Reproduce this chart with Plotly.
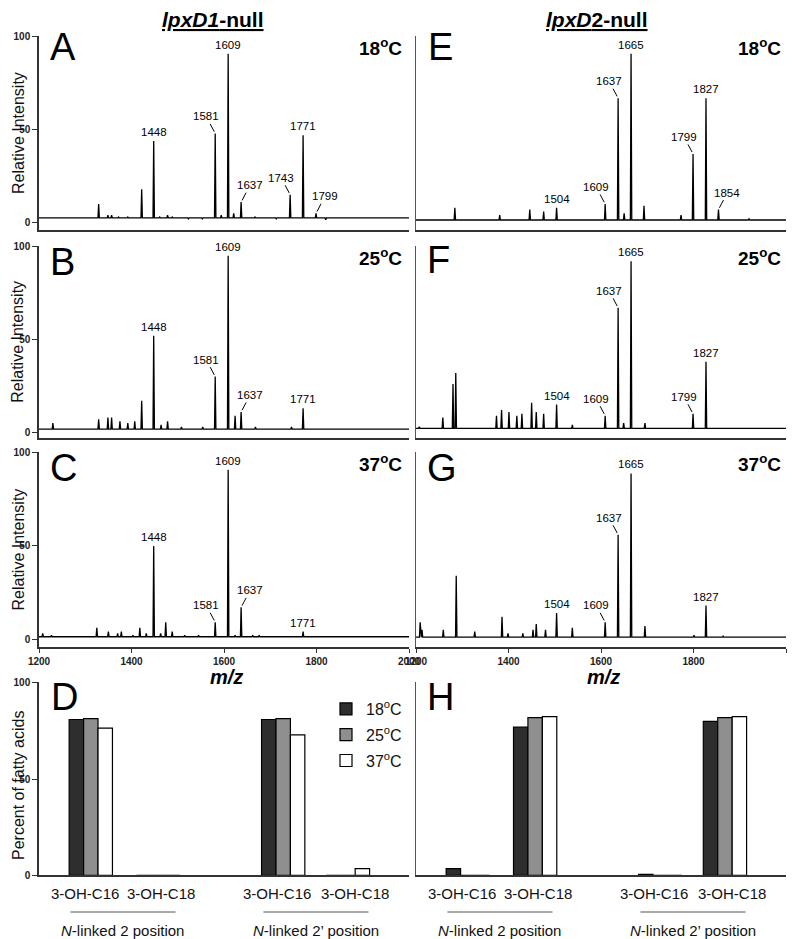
import plotly.graph_objects as go

''' MALDI spectra of lpxD1/lpxD2-null lipid A plus fatty acid composition bars '''

# ---------------- data ----------------
# panel A: lpxD1-null 18C
a_mz = [1329, 1349, 1357, 1372, 1392, 1422, 1448, 1461, 1478, 1488, 1523, 1553, 1581, 1594,
        1609, 1621, 1637, 1667, 1713, 1743, 1771, 1799, 1820]
a_int = [10, 4, 4, 3, 3, 18, 44, 3, 4, 3, 2, 2, 48, 4, 91, 5, 11, 3, 2, 15, 47, 5, 1.5]
a_base = 2.5

# panel B: lpxD1-null 25C
b_mz = [1230, 1329, 1349, 1357, 1375, 1392, 1407, 1422, 1448, 1464, 1478, 1508, 1554, 1581,
        1609, 1624, 1637, 1668, 1746, 1771, 1800]
b_int = [5, 7, 8, 8, 6, 5, 6, 17, 52, 4, 6, 3, 3, 30, 95, 9, 11, 3, 3, 13, 2]
b_base = 1.8

# panel C: lpxD1-null 37C
c_mz = [1208, 1227, 1325, 1350, 1370, 1378, 1403, 1418, 1432, 1448, 1463, 1474, 1488, 1515,
        1545, 1581, 1609, 1624, 1637, 1662, 1676, 1771, 1799]
c_int = [3, 2, 6, 4, 3, 4, 2, 6, 3, 50, 3, 9, 4, 2, 2, 9, 91, 2, 17, 2, 2, 4, 1.5]
c_base = 1.2

# panel E: lpxD2-null 18C
e_mz = [1284, 1381, 1446, 1476, 1504, 1609, 1637, 1650, 1665, 1693, 1773, 1799, 1827, 1854, 1920]
e_int = [8, 4, 7, 6, 8, 10, 67, 5, 91, 9, 4, 37, 67, 7, 2]
e_base = 1.4

# panel F: lpxD2-null 25C
f_mz = [1207, 1258, 1280, 1286, 1374, 1385, 1401, 1418, 1429, 1450, 1460, 1476, 1504, 1538,
        1609, 1637, 1649, 1665, 1695, 1799, 1827]
f_int = [3, 8, 26, 32, 9, 12, 11, 9, 10, 16, 11, 10, 15, 4, 9, 67, 5, 92, 5, 10, 38]
f_base = 2.2

# panel G: lpxD2-null 37C
g_mz = [1209, 1213, 1259, 1287, 1327, 1386, 1399, 1431, 1453, 1460, 1480, 1504, 1538, 1609,
        1637, 1665, 1695, 1801, 1827, 1864]
g_int = [9, 5, 5, 34, 4, 12, 3, 3, 5, 8, 5, 14, 6, 9, 56, 89, 7, 2, 18, 1.5]
g_base = 1.0

# bar panels D (lpxD1-null) and H (lpxD2-null)
fa_labels = ['3-OH-C16', '3-OH-C18', '3-OH-C16', '3-OH-C18']
group_labels = ['<i>N</i>-linked 2 position', '<i>N</i>-linked 2\u2019 position']
temps = ['18<sup>o</sup>C', '25<sup>o</sup>C', '37<sup>o</sup>C']
d_vals = [[81, 0, 81, 0], [81.5, 0, 81.5, 0], [76.5, 0, 73, 3.5]]
h_vals = [[3.5, 77, 0.5, 80], [0, 82, 0, 82], [0, 82.5, 0, 82.5]]

# labelled peaks: (m/z, where the label sits)
peak_labels = {
    1: [(1448, 'top'), (1581, 'ul'), (1609, 'top'), (1637, 'ur'), (1743, 'ul'), (1771, 'top'), (1799, 'ur')],
    2: [(1448, 'top'), (1581, 'ul'), (1609, 'top'), (1637, 'ur'), (1771, 'top')],
    3: [(1448, 'top'), (1581, 'ul'), (1609, 'top'), (1637, 'ur'), (1771, 'top')],
    5: [(1504, 'top'), (1609, 'ul'), (1637, 'ul'), (1665, 'top'), (1799, 'ul'), (1827, 'top'), (1854, 'ur')],
    6: [(1504, 'top'), (1609, 'ul'), (1637, 'ul'), (1665, 'top'), (1799, 'ul'), (1827, 'top')],
    7: [(1504, 'top'), (1609, 'ul'), (1637, 'ul'), (1665, 'top'), (1827, 'top')],
}

# ---------------- layout helpers ----------------
# the page body has an 8px margin, so the figure is shrunk by that and positions shifted
OFF = 8
W, H = 796 - OFF, 939 - OFF
FONT = 'Arial, Liberation Sans, sans-serif'


def px_x(p):
    return (p - OFF) / W


def px_y(p):
    return 1 - (p - OFF) / H


# rows: (top px, bottom px, y range); cols: (left px, right px)
rows = [(36, 230, [-4, 100.5]), (245.5, 438, [-3, 100.5]), (452, 647, [-4.3, 100.5]), (682, 875.3, [0, 100.5])]
cols = [(39, 409), (416, 786)]

# bar group centres and category label centres on the 0-10 bar axis
cat_pos = [1.4, 3.22, 6.6, 8.35]
label_pos = [1.23, 3.31, 6.42, 8.55]
bar_w = 0.39
bar_colors = ['#2e2e2e', '#8f8f8f', '#ffffff']

spectra = {1: (a_mz, a_int, a_base), 2: (b_mz, b_int, b_base), 3: (c_mz, c_int, c_base),
           5: (e_mz, e_int, e_base), 6: (f_mz, f_int, f_base), 7: (g_mz, g_int, g_base)}


def ax_name(idx):
    return '' if idx == 1 else str(idx)


def stick_line(mz, inten, base):
    # stick spectrum: each peak rises from the baseline and falls back
    xs, ys = [1200], [base]
    for m, h in sorted(zip(mz, inten)):
        xs += [m - 1.5, m, m + 1.5]
        ys += [base, h, base]
    xs.append(2000)
    ys.append(base)
    return xs, ys


fig = go.Figure()

# spectra
for idx, (mz, inten, base) in spectra.items():
    xs, ys = stick_line(mz, inten, base)
    fig.add_trace(go.Scatter(x=xs, y=ys, mode='lines', line=dict(color='black', width=1.3),
                             xaxis='x' + ax_name(idx), yaxis='y' + ax_name(idx), showlegend=False,
                             hoverinfo='skip'))

# bars
for i in range(3):
    fig.add_trace(go.Bar(x=cat_pos, y=d_vals[i], width=bar_w, offset=-1.5 * bar_w + i * bar_w,
                         marker=dict(color=bar_colors[i], line=dict(color='black', width=1.2)),
                         name=temps[i], legendgroup=temps[i], xaxis='x4', yaxis='y4'))
    fig.add_trace(go.Bar(x=cat_pos, y=h_vals[i], width=bar_w, offset=-1.5 * bar_w + i * bar_w,
                         marker=dict(color=bar_colors[i], line=dict(color='black', width=1.2)),
                         name=temps[i], legendgroup=temps[i], showlegend=False, xaxis='x8', yaxis='y8'))

# axes
layout_axes = {}
for c, (xl, xr) in enumerate(cols):
    for r, (yt, yb, yr) in enumerate(rows):
        idx = c * 4 + r + 1
        n = ax_name(idx)
        is_bar = r == 3
        xa = dict(domain=[px_x(xl), px_x(xr)], anchor='y' + n, showline=True, linecolor='#333',
                  linewidth=1.5, showgrid=False, zeroline=False, fixedrange=True, automargin=False)
        if is_bar:
            xa.update(range=[0, 10], showticklabels=False, ticks='')
        else:
            xa.update(range=[1200, 2000])
            if r == 2:
                xa.update(tickvals=[1200, 1400, 1600, 1800, 2000], ticks='outside', ticklen=4,
                          tickcolor='#333', tickfont=dict(family=FONT, size=10, color='#222', weight='bold'))
            else:
                xa.update(showticklabels=False, ticks='')
        ya = dict(domain=[px_y(yb), px_y(yt)], anchor='x' + n, range=yr, showline=True,
                  linecolor='#333', linewidth=1.5, showgrid=False, zeroline=False, fixedrange=True,
                  automargin=False)
        if c == 0:
            ya.update(tickvals=[0, 50, 100], ticks='outside', ticklen=5, tickcolor='#333',
                      tickfont=dict(family=FONT, size=10, color='#222', weight='bold'))
        else:
            ya.update(showticklabels=False, ticks='', linecolor='#555', linewidth=1)
        layout_axes['xaxis' + n] = xa
        layout_axes['yaxis' + n] = ya

annotations = []

# peak labels, with small leader lines where the label is offset
for idx, items in peak_labels.items():
    mz, inten, base = spectra[idx]
    n = ax_name(idx)
    for m, pos in items:
        h = inten[mz.index(m)]
        a = dict(x=m, y=h, xref='x' + n, yref='y' + n, text=str(m), xanchor='center',
                 font=dict(family=FONT, size=11.5, color='black'))
        if pos == 'top':
            a.update(showarrow=False, yanchor='bottom', yshift=1)
        else:
            a.update(showarrow=True, arrowhead=0, arrowwidth=1, arrowcolor='black', standoff=2,
                     ax=-9 if pos == 'ul' else 9, ay=-17)
        annotations.append(a)


def paper_text(text, x, y, size, xanchor='center', angle=0, color='black'):
    return dict(x=px_x(x), y=px_y(y), xref='paper', yref='paper', text=text, showarrow=False,
                xanchor=xanchor, yanchor='middle', textangle=angle,
                font=dict(family=FONT, size=size, color=color))


# panel letters and temperature tags
letters = [('A', 63, 47), ('B', 62, 262), ('C', 63, 468), ('D', 65, 697),
           ('E', 440, 47), ('F', 438, 260), ('G', 442, 468), ('H', 440, 697)]
for t, x, y in letters:
    annotations.append(paper_text(t, x, y, 38))

temp_tags = [(temps[0], 404, 47), (temps[1], 404, 257), (temps[2], 404, 463),
             (temps[0], 783, 47), (temps[1], 783, 257), (temps[2], 783, 463)]
for t, x, y in temp_tags:
    annotations.append(paper_text('<b>' + t + '</b>', x, y, 19, xanchor='right'))

# column titles
annotations.append(paper_text('<b><u><i>lpxD1</i>-null</u></b>', 213, 19, 21))
annotations.append(paper_text('<b><u><i>lpxD</i>2-null</u></b>', 597, 19, 21))

# m/z axis titles
for x in (227, 603):
    annotations.append(paper_text('<b><i>m/z</i></b>', x, 677, 20))

# y-axis titles
for yt, yb, yr in rows[:3]:
    annotations.append(paper_text('Relative Intensity', 18, (yt + yb) / 2, 16, angle=-90, color='#111'))
annotations.append(paper_text('Percent of fatty acids', 18, 786, 16, angle=-90, color='#111'))

# category labels, group underlines and group labels below the bar panels
shapes = []
group_centers = [(label_pos[0] + label_pos[1]) / 2, (label_pos[2] + label_pos[3]) / 2]
for xr in ('x4', 'x8'):
    for lp, fl in zip(label_pos, fa_labels):
        annotations.append(dict(x=lp, y=px_y(893), xref=xr, yref='paper', showarrow=False, text=fl,
                                xanchor='center', yanchor='middle',
                                font=dict(family=FONT, size=15, color='#111')))
    for gc, gl in zip(group_centers, group_labels):
        shapes.append(dict(type='line', xref=xr, yref='paper', x0=gc - 1.42, x1=gc + 1.42,
                           y0=px_y(912), y1=px_y(912), line=dict(color='#555', width=1)))
        annotations.append(dict(x=gc, y=px_y(930), xref=xr, yref='paper', showarrow=False, text=gl,
                                xanchor='center', yanchor='middle',
                                font=dict(family=FONT, size=15, color='#111')))

fig.update_layout(
    width=W, height=H,
    margin=dict(l=0, r=0, t=0, b=0, autoexpand=False),
    paper_bgcolor='white', plot_bgcolor='white',
    barmode='overlay',
    annotations=annotations,
    shapes=shapes,
    legend=dict(x=px_x(326), y=px_y(692), xanchor='left', yanchor='top',
                font=dict(family=FONT, size=16, color='#111'), bgcolor='rgba(0,0,0,0)',
                itemwidth=30, tracegroupgap=2),
    **layout_axes,
)

fig.write_html("out.html")
